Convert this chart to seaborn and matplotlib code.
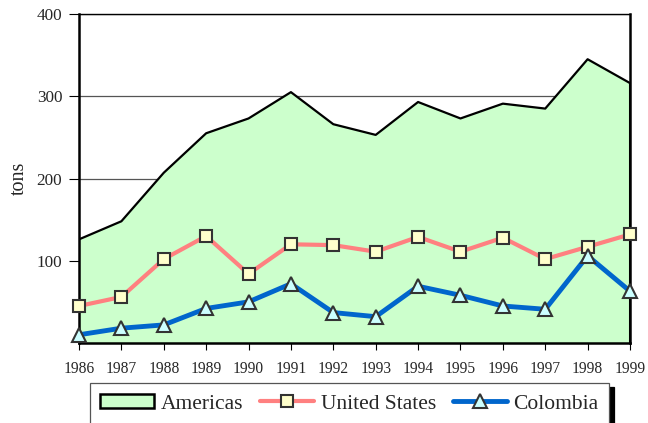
import matplotlib
matplotlib.use("Agg")
import matplotlib.pyplot as plt
import seaborn as sns
import pandas as pd
from matplotlib.patches import Patch
from matplotlib.lines import Line2D

years = [1986, 1987, 1988, 1989, 1990, 1991, 1992, 1993, 1994, 1995, 1996, 1997, 1998, 1999]
americas = [126, 148, 207, 255, 273, 305, 266, 253, 293, 273, 291, 285, 345, 316]
united_states = [45, 56, 102, 130, 84, 120, 119, 111, 129, 111, 128, 102, 117, 132]
colombia = [10, 18, 22, 42, 50, 72, 37, 32, 69, 58, 45, 41, 106, 63]
y_ticks = [100, 200, 300, 400]
series_names = ["Americas", "United States", "Colombia"]

df = pd.DataFrame({"year": years, "Americas": americas,
                   "United States": united_states, "Colombia": colombia})

sns.set_style("white")
plt.rcParams["font.family"] = ["Liberation Serif", "DejaVu Serif"]

fig = plt.figure(figsize=(6.48, 4.23), dpi=100)
ax = fig.add_axes([79/648, 1-343/423, (630-79)/648, (343-14)/423])

# gridlines behind area
for t in y_ticks:
    ax.axhline(t, color="#555555", lw=0.9, zorder=0)

ax.fill_between(df["year"], 0, df["Americas"], facecolor="#CCFFCC",
                edgecolor="none", zorder=1)
ax.plot(df["year"], df["Americas"], color="black", lw=1.6, zorder=2)
ax.plot([years[-1], years[-1]], [0, americas[-1]], color="black", lw=2.2, zorder=2)

us_style = dict(color="#FF8080", lw=3, marker="s", markersize=8,
                markerfacecolor="#FFFFCC", markeredgecolor="#333333", markeredgewidth=1.5)
co_style = dict(color="#0066CC", lw=3.5, marker="^", markersize=10,
                markerfacecolor="#CCFFFF", markeredgecolor="#333333", markeredgewidth=1.5)

sns.lineplot(data=df, x="year", y="United States", ax=ax, zorder=3, clip_on=False, **us_style)
sns.lineplot(data=df, x="year", y="Colombia", ax=ax, zorder=4, clip_on=False, **co_style)

ax.set_xlim(1986, 1999)
ax.set_ylim(0, 400)
ax.set_xticks(years)
ax.set_xticklabels([str(y) for y in years], fontsize=11.2)
ax.set_yticks(y_ticks)
ax.set_yticklabels([str(t) for t in y_ticks], fontsize=12.3)
ax.set_xlabel("")
ax.set_ylabel("tons", fontsize=14.5, labelpad=6)
ax.tick_params(axis="x", direction="out", length=5, width=0.8, color="black", pad=8, bottom=True)
ax.tick_params(axis="y", direction="out", length=7, width=0.8, color="black", pad=5, left=True)

ax.spines["top"].set_color("black")
ax.spines["top"].set_linewidth(1.0)
for side in ["left", "bottom", "right"]:
    ax.spines[side].set_color("black")
    ax.spines[side].set_linewidth(1.8)

handles = [
    Patch(facecolor="#CCFFCC", edgecolor="black", linewidth=1.8),
    Line2D([], [], **us_style),
    Line2D([], [], **co_style),
]
leg = fig.legend(handles, series_names,
                 loc="upper center", bbox_to_anchor=(349.5/648, 1-383/423),
                 ncol=3, fontsize=15.5, frameon=True, fancybox=False,
                 edgecolor="#555555", handlelength=2.5, handletextpad=0.3,
                 handleheight=0.65, columnspacing=0.8, borderpad=0.5,
                 borderaxespad=0.0,
                 shadow={"color": "black", "alpha": 1.0, "ox": 3.5, "oy": -3})
leg.get_frame().set_linewidth(0.9)

fig.savefig("out.png", dpi=100)
